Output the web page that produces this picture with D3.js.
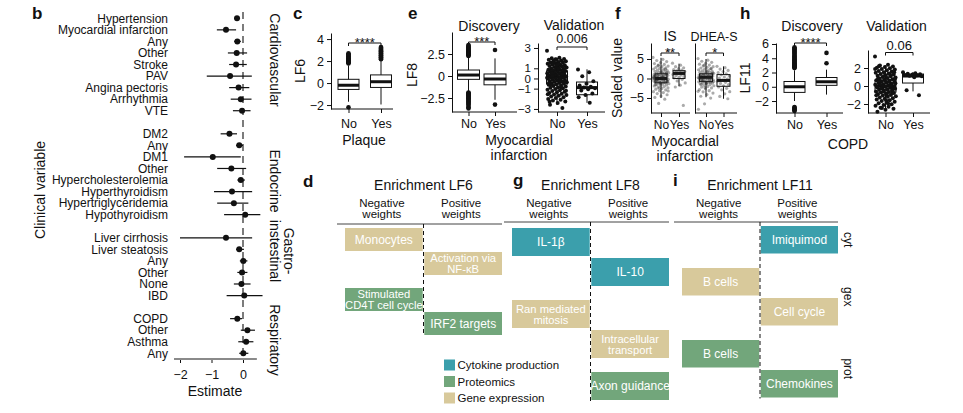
<!DOCTYPE html>
<html><head><meta charset="utf-8">
<script src="https://cdn.jsdelivr.net/npm/d3@7"></script>
<style>
body{margin:0;background:#fff;}
svg{display:block;font-family:"Liberation Sans",Arial,sans-serif;}
</style></head><body>
<svg id="chart" width="963" height="413"></svg>
<script>
// ---------------- DATA ----------------
// Panel b: forest plot
const forestLabels = ["Hypertension","Myocardial infarction","Any","Other","Stroke","PAV","Angina pectoris","Arrhythmia","VTE",
  "DM2","Any","DM1","Other","Hypercholesterolemia","Hyperthyroidism","Hypertriglyceridemia","Hypothyroidism",
  "Liver cirrhosis","Liver steatosis","Any","Other","None","IBD",
  "COPD","Other","Asthma","Any"];
const forestGroupNames = ["Cardiovascular","Endocrine","Gastro-\ninstestinal","Respiratory"];
const forestGroup = [0,0,0,0,0,0,0,0,0, 1,1,1,1,1,1,1,1, 2,2,2,2,2,2, 3,3,3,3];
const forestEst = [-0.19,-0.54,-0.18,-0.2,-0.22,-0.41,-0.14,-0.07,-0.03, -0.43,-0.12,-0.96,-0.37,-0.07,-0.35,-0.29,0.07, -0.54,-0.12,0.01,-0.03,-0.05,0.04, -0.18,0.14,0.1,0.01];
const forestLo  = [-0.27,-0.83,-0.28,-0.48,-0.44,-1.15,-0.44,-0.39,-0.32, -0.71,-0.22,-1.87,-0.82,-0.18,-0.92,-0.82,-0.6, -2.0,-0.22,-0.1,-0.18,-0.29,-0.52, -0.41,-0.07,-0.15,-0.12];
const forestHi  = [-0.1,-0.22,-0.07,0.13,0.12,0.28,0.2,0.27,0.24, -0.19,0.0,-0.07,0.1,0.06,0.29,0.17,0.55, 0.29,0.03,0.14,0.14,0.24,0.62, -0.03,0.38,0.33,0.17];
const forestTicks = [-2,-1,0];

const boxCats = ["No","Yes"];
// stats: [lower whisker, Q1, median, Q3, upper whisker]
// Panel c: LF6 by plaque
const lf6PlaqueStats = [[-1.7,-0.58,-0.2,0.34,1.6],[-1.95,-0.4,0.12,0.74,2.1]];
const lf6PlaqueOut = [[1.78,1.84,1.9,1.93,1.99,2.05,2.08,2.14,2.2,2.23,2.29,2.36,2.41,2.47,2.55,2.62,2.7,-2.2],
  [2.16,2.22,2.27,2.34,2.39,2.46,2.52,2.57,2.64,2.7,2.77,2.85,2.9,2.98,3.06,3.13,3.2,3.28]];
const lf6Ticks = [-2,0,2,4];
// Panel e: LF8 by myocardial infarction
const lf8DiscStats = [[-1.7,-0.38,0.11,0.68,2.2],[-2.7,-1.0,-0.34,0.23,2.0]];
const lf8DiscOut = [[2.28,2.35,2.41,2.47,2.55,2.6,2.68,2.74,2.8,2.88,2.95,3.02,3.1,3.17,3.25,3.33,3.42,3.52,
  -1.88,-1.95,-2.03,-2.1,-2.18,-2.27,-2.35,-2.44,-2.52,-2.6,-2.7,-2.8,-2.9,-3.0,-3.12,-3.25,-3.4,-3.55,-3.7],[2.95,-3.25]];
const lf8DiscTicks = [-2.5,0,2.5];
const lf8ValStats = [[-2.6,-0.55,0.15,0.75,2.0],[-2.4,-1.6,-0.9,-0.35,0.9]];
const lf8ValNo = [2.72,2.05,1.98,1.91,1.87,1.83,1.76,1.72,1.69,1.63,1.58,1.55,1.49,1.44,1.41,1.37,1.31,1.28,1.22,1.19,1.14,1.08,1.05,0.99,0.96,0.91,0.86,0.83,0.78,0.74,0.69,0.65,0.61,0.57,0.52,0.48,0.44,0.39,0.36,0.31,0.27,0.22,0.19,0.14,0.11,0.06,0.02,-0.03,-0.07,-0.12,-0.15,-0.21,-0.24,-0.29,-0.33,-0.38,-0.41,-0.46,-0.52,-0.57,-0.63,-0.68,-0.74,-0.79,-0.86,-0.92,-0.97,-1.04,-1.11,-1.17,-1.23,-1.3,-1.36,-1.42,-1.5,-1.57,-1.63,-1.71,-1.78,-1.85,-1.93,-2.01,-2.09,-2.18,-2.26,-2.41,-2.58,-2.9,0.33,0.08,-0.18,0.55,0.72,1.12,-0.45,-0.88,1.66,-1.2,0.95,-0.6,0.41,1.9,-1.55,0.0,0.24,-0.3,1.35,-2.3];
const lf8ValYes = [0.88,0.62,0.21,-0.28,-0.52,-0.68,-0.81,-0.9,-0.97,-1.06,-1.18,-1.47,-1.62,-1.85,-2.38];
const lf8ValTicks = [-3,-1,0,1,3];
// Panel f: IS and DHEA-S scaled values
const isStats = [[-5,-1.1,0,1.2,5.3],[-2,0,1.3,2,3.8]];
const dheaStats = [[-4.8,-0.8,0.3,1.2,5],[-5.2,-2,-0.5,1,3.1]];
const isNo = [5.4,4.92,4.61,4.33,4.08,3.83,3.61,3.42,3.18,3.02,2.87,2.71,2.58,2.43,2.29,2.13,2.02,1.91,1.79,1.68,1.57,1.49,1.38,1.31,1.22,1.13,1.04,0.97,0.88,0.81,0.72,0.64,0.57,0.49,0.41,0.33,0.26,0.17,0.09,0.02,-0.06,-0.13,-0.22,-0.29,-0.37,-0.44,-0.52,-0.61,-0.68,-0.77,-0.86,-0.94,-1.03,-1.12,-1.21,-1.33,-1.42,-1.54,-1.66,-1.78,-1.92,-2.07,-2.21,-2.38,-2.56,-2.74,-2.93,-3.14,-3.37,-3.62,-3.88,-4.17,-4.49,-4.86,-5.3,-6.4,7.2,0.5,-0.4,1.1,-1.0,0.2,-0.2,0.8,-0.7,1.6,-1.6,2.4,-2.5,0.0,0.35,-0.55,1.45,-1.25,0.66,-0.9,3.3,-3.2];
const isYes = [3.92,3.41,3.03,2.74,2.52,2.31,2.12,1.93,1.76,1.61,1.44,1.32,1.19,1.03,0.88,0.71,0.52,0.31,0.12,-0.21,-0.63,-1.14,-1.72,-2.18,-6.9];
const dheaNo = [5.1,4.7,4.42,4.15,3.91,3.68,3.45,3.22,3.04,2.86,2.69,2.53,2.38,2.24,2.1,1.97,1.85,1.73,1.62,1.51,1.42,1.32,1.22,1.13,1.04,0.96,0.87,0.79,0.71,0.63,0.55,0.47,0.4,0.32,0.24,0.16,0.08,0.01,-0.07,-0.15,-0.23,-0.31,-0.39,-0.48,-0.57,-0.66,-0.75,-0.85,-0.95,-1.06,-1.17,-1.29,-1.42,-1.56,-1.7,-1.86,-2.03,-2.21,-2.41,-2.63,-2.87,-3.13,-3.42,-3.75,-4.12,-4.55,-5.02,-6.5,-7.9,0.6,-0.3,1.2,-1.1,0.3,-0.1,0.9,-0.8,1.7,-1.5,2.5,-2.3,0.1,0.45,-0.6,1.4,-1.3,0.7,-0.95,3.4,-3.3];
const dheaYes = [3.12,2.78,2.41,2.07,1.76,1.48,1.19,0.93,0.64,0.38,0.11,-0.16,-0.43,-0.71,-0.98,-1.27,-1.56,-1.87,-2.18,-2.52,-2.91,-3.38,-3.93,-4.61,-5.2];
const scaledTicks = [-5,0,5];
// Panel h: LF11 by COPD
const lf11DiscStats = [[-2.0,-0.79,0,0.74,2.3],[-1.1,0.2,0.7,1.3,2.4]];
const lf11DiscOut = [[2.62,2.7,2.78,2.86,2.95,3.03,3.12,3.2,3.3,3.4,3.5,3.6,3.72,3.85,3.97,4.1,4.23,4.36,4.5,4.65,4.8,4.95,5.1,5.25,5.4,5.55,-2.85,-2.95,-3.05,-3.15,-3.3,-3.4],[3.3,4.75]];
const lf11DiscTicks = [-2,0,2,4,6];
const lf11ValStats = [[-2.5,-0.67,0,0.67,2.3],[-0.6,0.33,1.11,1.33,1.55]];
const lf11ValNo = [3.28,2.36,2.27,2.18,2.11,2.04,1.96,1.88,1.82,1.75,1.67,1.61,1.54,1.46,1.4,1.33,1.27,1.2,1.13,1.07,1.01,0.94,0.88,0.82,0.75,0.69,0.63,0.57,0.51,0.45,0.38,0.32,0.27,0.2,0.14,0.09,0.03,-0.02,-0.08,-0.13,-0.19,-0.25,-0.31,-0.37,-0.42,-0.48,-0.54,-0.6,-0.66,-0.72,-0.79,-0.85,-0.92,-0.99,-1.06,-1.13,-1.2,-1.28,-1.35,-1.43,-1.51,-1.59,-1.67,-1.76,-1.84,-1.93,-2.02,-2.11,-2.2,-2.3,-2.41,-2.52,-2.65,-2.87,0.12,-0.05,0.3,-0.4,0.66,-0.77,1.1,-1.02,0.47,-0.22,1.52,-1.6,0.85,0.02,-0.6,1.9,-1.95,0.2,-0.3,0.58,-0.12,1.3,-2.45,0.77,-0.88,2.2];
const lf11ValYes = [1.52,1.43,1.36,1.31,1.27,1.22,1.19,1.14,1.08,0.97,-0.48,-1.02];
const lf11ValTicks = [-2,0,2];

// Panels d, g, i: enrichment terms
const lf6Terms = ["Monocytes","Activation via\nNF-κB","Stimulated\nCD4T cell cycle","IRF2 targets"];
const lf6Side  = ["neg","pos","neg","pos"];
const lf6Type  = ["gex","gex","prot","prot"];
const lf8Terms = ["IL-1β","IL-10","Ran mediated\nmitosis","Intracellular\ntransport","Axon guidance"];
const lf8Side  = ["neg","pos","neg","pos","pos"];
const lf8Type  = ["cyt","cyt","gex","gex","prot"];
const lf11Terms = ["Imiquimod","B cells","Cell cycle","B cells","Chemokines"];
const lf11Side  = ["pos","neg","pos","neg","pos"];
const lf11Type  = ["cyt","gex","gex","prot","prot"];
const typeKeys = ["cyt","gex","prot"];
const legendKeys = ["cyt","prot","gex"];
const legendNames = ["Cytokine production","Proteomics","Gene expression"];
const typeColors = ["#3b9fac","#d8c99b","#72a67b"]; // cyt, gex, prot

// ---------------- DRAWING ----------------
const svg = d3.select("#chart");
svg.append("rect").attr("width",963).attr("height",413).attr("fill","#fff");
const INK = "#111";
const colorOf = d3.scaleOrdinal().domain(typeKeys).range(typeColors);

function txt(x,y,s,o={}){
  const t = svg.append("text").attr("x",x).attr("y",y).text(s)
    .attr("font-size",o.size||12).attr("text-anchor",o.anchor||"middle").attr("fill",o.fill||INK);
  if(o.weight) t.attr("font-weight",o.weight);
  if(o.rotate!=null) t.attr("transform",`rotate(${o.rotate},${x},${y})`);
  return t;
}
function styleAxis(a,size){
  a.attr("font-size",null).attr("font-family",null);
  a.selectAll("text").attr("font-size",size||12.5).attr("fill",INK);
  a.selectAll("line,path").attr("stroke",INK);
}

// Panel letters
[["b",32,19],["c",293,19],["e",408,19],["f",615,19],["h",740,19],["d",303,187],["g",513,186],["i",673,186]]
  .forEach(([l,x,y])=>txt(x,y,l,{size:17,weight:"bold",anchor:"start"}));

// ---- Panel b: forest ----
(function(){
  const slot = forestLabels.map((d,i)=>i+forestGroup[i]);
  const y = d3.scalePoint().domain(d3.range(30)).range([18.3,353.3]);
  const x = d3.scaleLinear().domain([-2,0]).range([180,243]);
  const g = svg.append("g");
  g.append("line").attr("x1",x(0)).attr("x2",x(0)).attr("y1",12).attr("y2",358)
    .attr("stroke",INK).attr("stroke-width",1.1).attr("stroke-dasharray","7,5");
  forestLabels.forEach((lab,i)=>{
    const yy = y(slot[i]);
    g.append("line").attr("x1",x(forestLo[i])).attr("x2",x(forestHi[i])).attr("y1",yy).attr("y2",yy)
      .attr("stroke",INK).attr("stroke-width",1.2);
    g.append("circle").attr("cx",x(forestEst[i])).attr("cy",yy).attr("r",3).attr("fill",INK);
    txt(168,yy+4.3,lab,{anchor:"end",size:12});
  });
  const ax = g.append("g").attr("transform","translate(0,359)")
    .call(d3.axisBottom(x).tickValues(forestTicks).tickSize(4).tickPadding(7).tickFormat(d3.format("")));
  ax.select(".domain").remove();
  styleAxis(ax,12.5);
  g.append("line").attr("x1",x(-2.19)).attr("x2",x(0.44)).attr("y1",359).attr("y2",359)
    .attr("stroke","#8a8a8a").attr("stroke-width",2);
  txt(215,396,"Estimate",{size:14});
  txt(45,190,"Clinical variable",{size:14,rotate:-90});
  const groupCentres = [60,181,251,340];
  forestGroupNames.forEach((name,gi)=>{
    const cy = groupCentres[gi];
    const lines = name.split("\n");
    lines.forEach((ln,k)=>{
      const bx = lines.length===2 ? (k===0?283.5:269.5) : 269.5;
      txt(bx,cy,ln,{size:14,rotate:90});
    });
  });
})();

// ---- Box panels ----
function jit(i){ return ((i*0.61803398875)%1)-0.5; }
function boxPanel(o){
  const g = svg.append("g");
  const y = d3.scaleLinear().domain(o.domain).range([o.bottom,o.top]);
  const x = d3.scalePoint().domain(boxCats).range(o.centers);
  const ya = g.append("g").attr("transform",`translate(${o.axisX},0)`)
    .call(d3.axisLeft(y).tickValues(o.ticks).tickSize(4).tickSizeOuter(0).tickPadding(3).tickFormat(d3.format("")));
  styleAxis(ya,o.ytSize||12.5);
  const xa = g.append("g").attr("transform",`translate(0,${o.bottom})`)
    .call(d3.axisBottom(x).tickSize(4).tickPadding(o.xpad||3));
  xa.select(".domain").remove();
  styleAxis(xa,o.xtSize||12.5);
  g.append("line").attr("x1",o.axisX).attr("x2",o.xEnd).attr("y1",o.bottom).attr("y2",o.bottom).attr("stroke",INK);
  boxCats.forEach((c,i)=>{
    const s = o.stats[i], cx = x(c), w = o.boxW;
    g.append("line").attr("x1",cx).attr("x2",cx).attr("y1",y(s[0])).attr("y2",y(s[4])).attr("stroke",INK);
    g.append("rect").attr("x",cx-w/2).attr("y",y(s[3])).attr("width",w).attr("height",y(s[1])-y(s[3]))
      .attr("fill","#fff").attr("stroke",INK).attr("stroke-width",1);
    g.append("line").attr("x1",cx-w/2).attr("x2",cx+w/2).attr("y1",y(s[2])).attr("y2",y(s[2]))
      .attr("stroke",INK).attr("stroke-width",3);
    if(o.out){
      g.selectAll(null).data(o.out[i]).join("circle").attr("cx",cx).attr("cy",d=>y(d)).attr("r",2.3).attr("fill",INK);
    }
    if(o.pts){
      const ps = o.ptStyle;
      g.selectAll(null).data(o.pts[i]).join("circle")
        .attr("cx",(d,k)=>cx+jit(k)*o.jw[i]).attr("cy",d=>y(d)).attr("r",ps.r)
        .attr("fill",ps.fill).attr("fill-opacity",ps.op);
    }
  });
  if(o.bracket){
    const b = o.bracket;
    g.append("path").attr("d",`M${x("No")},${b.y+3}V${b.y}H${x("Yes")}V${b.y+3}`)
      .attr("fill","none").attr("stroke",INK);
    const midx = (x("No")+x("Yes"))/2;
    txt(midx,b.ty,b.label,{size:b.size||13});
  }
  return {x,y};
}

// c
boxPanel({axisX:331,top:33,bottom:109,domain:[-2.36,4.55],ticks:lf6Ticks,xEnd:393,centers:[348.5,381],boxW:21,
  stats:lf6PlaqueStats,out:lf6PlaqueOut,xpad:6,bracket:{y:43,ty:47,label:"****"}});
txt(364,145,"Plaque",{size:14});
txt(305,71,"LF6",{size:14,rotate:-90});
// e discovery
boxPanel({axisX:452,top:32,bottom:112,domain:[-4.09,5.0],ticks:lf8DiscTicks,xEnd:517,centers:[468.5,495],boxW:22,
  stats:lf8DiscStats,out:lf8DiscOut,bracket:{y:42,ty:46,label:"***"}});
txt(489,31,"Discovery",{size:14});
txt(417,75,"LF8",{size:14,rotate:-90});
// e validation
boxPanel({axisX:538,top:43,bottom:112,domain:[-3.3,3.49],ticks:lf8ValTicks,xEnd:605,centers:[557,587],boxW:21,ytSize:11.5,
  stats:lf8ValStats,pts:[lf8ValNo,lf8ValYes],jw:[20,18],ptStyle:{r:2,fill:INK,op:1},
  bracket:{y:47,ty:43,label:"0.006",size:12.5}});
txt(574,30,"Validation",{size:14});
txt(519,145,"Myocardial",{size:14});
txt(519,160,"infarction",{size:14});
// f IS
boxPanel({axisX:651,top:43,bottom:113,domain:[-8.85,9.1],ticks:scaledTicks,xEnd:690,centers:[661,679],boxW:12,xtSize:12,
  stats:isStats,pts:[isNo,isYes],jw:[16,13],ptStyle:{r:1.6,fill:"#222",op:0.38},
  bracket:{y:53,ty:57,label:"**"}});
txt(670,41,"IS",{size:14});
// f DHEA-S
boxPanel({axisX:695,top:43,bottom:113,domain:[-8.85,9.1],ticks:[],xEnd:737,centers:[706,723.5],boxW:13,xtSize:12,
  stats:dheaStats,pts:[dheaNo,dheaYes],jw:[16,13],ptStyle:{r:1.6,fill:"#222",op:0.38},
  bracket:{y:53,ty:57,label:"*"}});
txt(714,41,"DHEA-S",{size:12.5});
txt(622,78,"Scaled value",{size:14,rotate:-90});
txt(685,146,"Myocardial",{size:14});
txt(685,161,"infarction",{size:14});
// h discovery
boxPanel({axisX:776,top:43,bottom:113,domain:[-3.68,6.14],ticks:lf11DiscTicks,xEnd:843,centers:[794.5,826.5],boxW:21,
  stats:lf11DiscStats,out:lf11DiscOut,bracket:{y:43,ty:47,label:"****"}});
txt(812,31,"Discovery",{size:14});
txt(750,78,"LF11",{size:14,rotate:-90});
// h validation
boxPanel({axisX:868,top:50,bottom:113,domain:[-3,4],ticks:lf11ValTicks,xEnd:930,centers:[885.5,913],boxW:21,
  stats:lf11ValStats,pts:[lf11ValNo,lf11ValYes],jw:[21,20],ptStyle:{r:2,fill:INK,op:1},
  bracket:{y:52.5,ty:49.5,label:"0.06"}});
txt(896.5,31,"Validation",{size:14});
txt(848,149,"COPD",{size:14});

// ---- Enrichment panels ----
function enrichPanel(o){
  const present = typeKeys.filter(t=>o.types.includes(t));
  const xb = d3.scaleBand().domain(["neg","pos"]).range([o.x0,o.x1]).paddingInner(0.02);
  const yr = d3.scaleLinear().domain([0,1]).range([o.top,o.top+o.step]);
  const yOf = i => yr(i)+present.indexOf(o.types[i])*o.gap;
  const mid = (xb("neg")+xb.bandwidth()+xb("pos"))/2;
  const bw = xb.bandwidth();
  txt(mid,190,o.title,{size:14});
  [["neg","Negative"],["pos","Positive"]].forEach(([s,w])=>{
    const cx = xb(s)+bw/2-2;
    txt(cx,207,w,{size:11.5}); txt(cx,218,"weights",{size:11.5});
  });
  svg.append("line").attr("x1",o.lx0).attr("x2",o.x1).attr("y1",o.hy).attr("y2",o.hy).attr("stroke","#444").attr("stroke-width",1);
  const last = o.terms.length-1;
  o.terms.forEach((t,i)=>{
    const x0 = xb(o.sides[i]), y0 = yOf(i);
    svg.append("rect").attr("x",x0).attr("y",y0).attr("width",bw).attr("height",o.h).attr("fill",colorOf(o.types[i]));
    const lines = t.split("\n"), cx = x0+bw/2, cy = y0+o.h/2;
    if(lines.length===1) txt(cx,cy+4.2,t,{size:12,fill:"#fff"});
    else { txt(cx,cy-1.5,lines[0],{size:11.2,fill:"#fff"}); txt(cx,cy+9.5,lines[1],{size:11.2,fill:"#fff"}); }
  });
  svg.append("line").attr("x1",mid).attr("x2",mid).attr("y1",o.hy).attr("y2",yOf(last)+o.h+1)
    .attr("stroke",INK).attr("stroke-width",1).attr("stroke-dasharray","4,3");
  if(o.side){
    present.forEach(tp=>{
      const idx = o.types.map((d,i)=>d===tp?i:-1).filter(i=>i>=0);
      const c = (yOf(idx[0])+yOf(idx[idx.length-1])+o.h)/2;
      txt(844,c,tp,{size:12,rotate:90});
    });
  }
}
enrichPanel({title:"Enrichment LF6",terms:lf6Terms,sides:lf6Side,types:lf6Type,x0:345,x1:502,lx0:337,hy:224,top:228,step:24,gap:12,h:23});
enrichPanel({title:"Enrichment LF8",terms:lf8Terms,sides:lf8Side,types:lf8Type,x0:512,x1:669,lx0:504,hy:222,top:228,step:30,gap:12,h:28});
enrichPanel({title:"Enrichment LF11",terms:lf11Terms,sides:lf11Side,types:lf11Type,x0:682,x1:838,lx0:674,hy:222,top:226,step:30,gap:12,h:27.5,side:true});

// legend
const ly = d3.scalePoint().domain(legendKeys).range([365,398]);
legendKeys.forEach((k,i)=>{
  svg.append("rect").attr("x",444).attr("y",ly(k)-5.5).attr("width",11).attr("height",11).attr("fill",colorOf(k));
  txt(457.5,ly(k)+4,legendNames[i],{size:11.5,anchor:"start"});
});
</script>
</body></html>
